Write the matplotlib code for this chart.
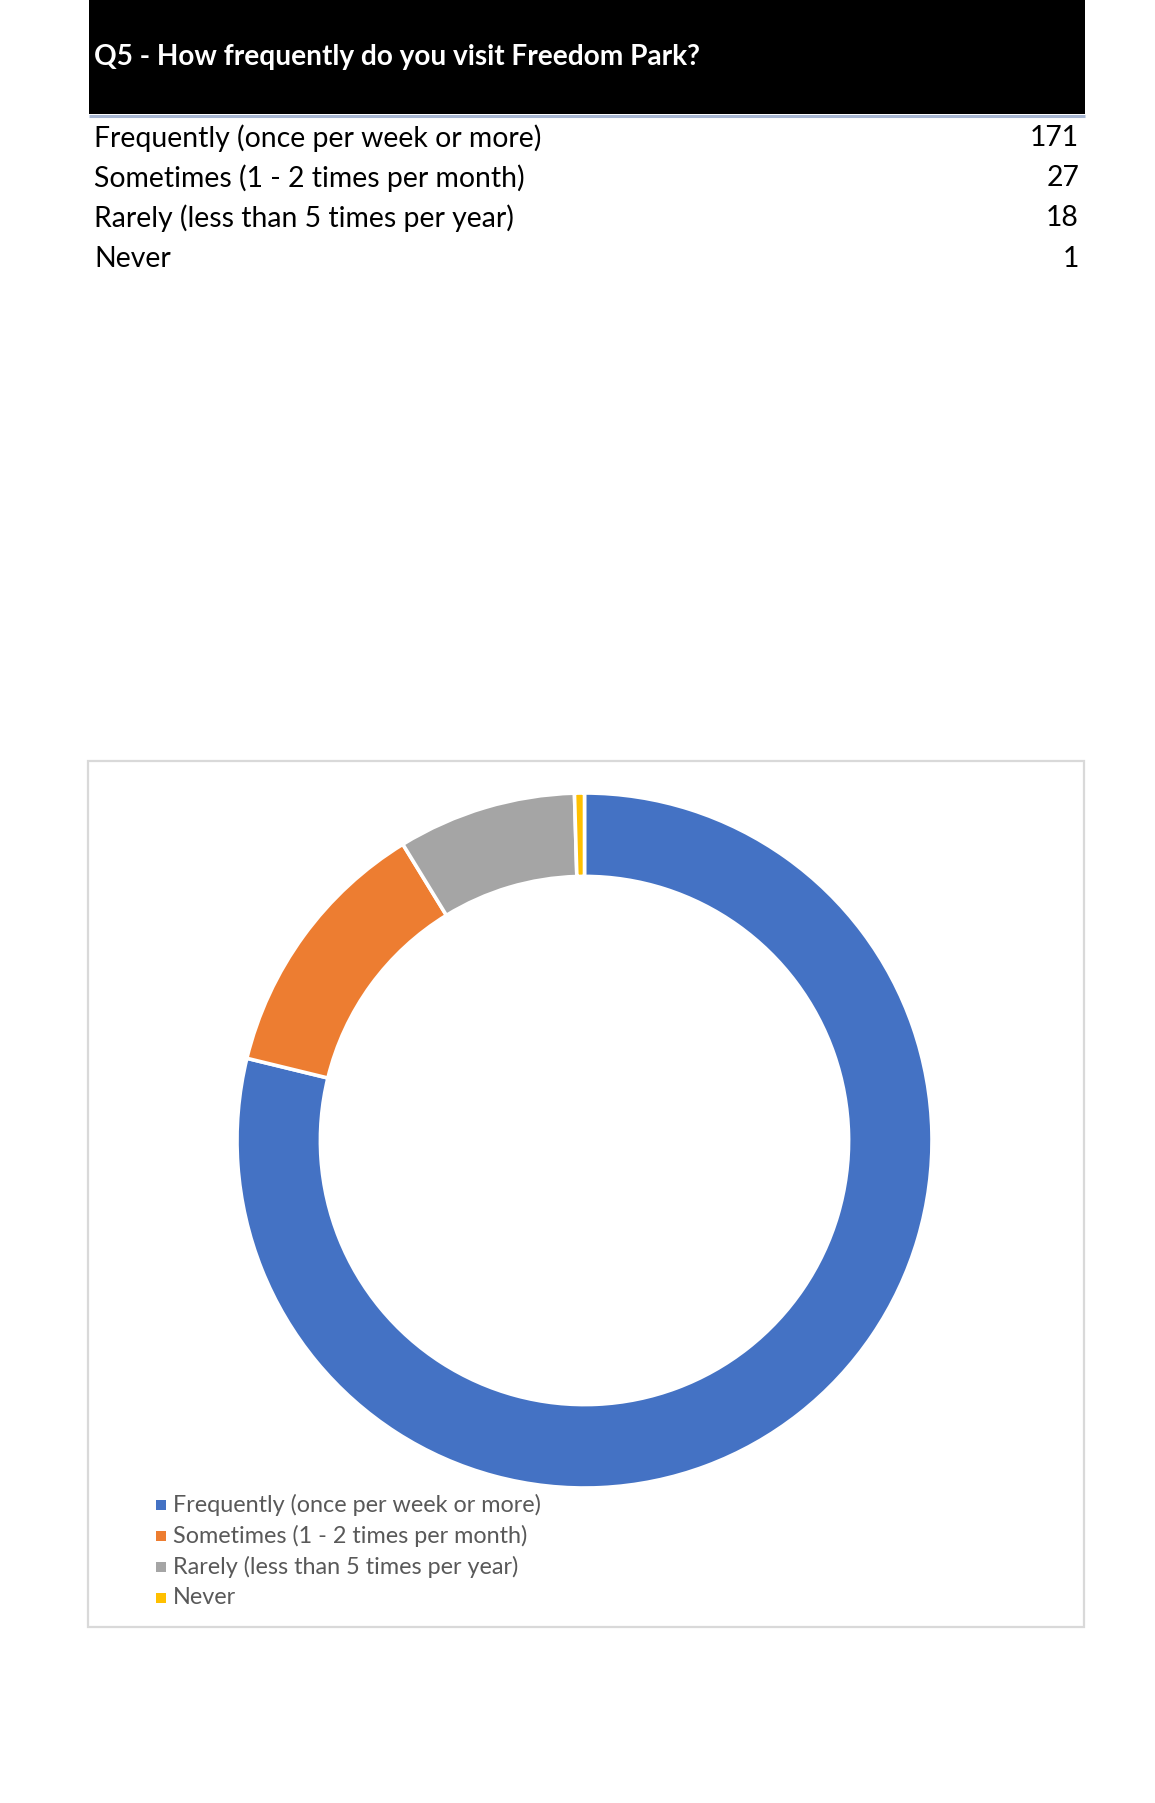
import matplotlib
matplotlib.use("Agg")
import matplotlib.pyplot as plt
from matplotlib.patches import Rectangle

# Survey responses
title = "Q5 - How frequently do you visit Freedom Park?"
categories = [
    "Frequently (once per week or more)",
    "Sometimes (1 - 2 times per month)",
    "Rarely (less than 5 times per year)",
    "Never",
]
counts = [171, 27, 18, 1]
colors = ["#4472C4", "#ED7D31", "#A5A5A5", "#FFC000"]

W, H = 1155, 1803
DPI = 100
FONT = "Lato"

fig = plt.figure(figsize=(W / DPI, H / DPI), dpi=DPI, facecolor="white")

# Page layer in pixel coordinates (origin top-left)
page = fig.add_axes([0, 0, 1, 1])
page.set_xlim(0, W)
page.set_ylim(H, 0)
page.axis("off")

# Header bar
page.add_patch(Rectangle((88.5, 0), 996.5, 114, facecolor="black", edgecolor="none"))
page.plot([88.5, 1085], [115.5, 115.5], color="#A7B6D2", lw=2.2, solid_capstyle="butt")
page.text(94, 57, title, color="white", fontsize=20.2, fontweight="bold",
          family=FONT, va="center", ha="left")

# Response table
row_y = [138, 178, 218, 259]
for y, cat, n in zip(row_y, categories, counts):
    page.text(94, y, cat, color="black", fontsize=20.4, family=FONT, va="center", ha="left")
    page.text(1079, y, str(n), color="black", fontsize=20.4, family=FONT, va="center", ha="right")

# Chart frame
page.add_patch(Rectangle((87.5, 760.5), 996, 866.5, facecolor="none",
                         edgecolor="#D9D9D9", lw=1.6))

# Doughnut chart
cx, cy, r = 584.5, 1140.5, 347.5
donut = fig.add_axes([(cx - r) / W, (H - (cy + r)) / H, 2 * r / W, 2 * r / H])
wedges, _ = donut.pie(counts, colors=colors, startangle=90, counterclock=False,
                      radius=1.0,
                      wedgeprops=dict(width=0.24, edgecolor="white", linewidth=2.6))
donut.set_xlim(-1, 1)
donut.set_ylim(-1, 1)
donut.set_aspect("equal")
donut.axis("off")

# Legend
leg_y = [1505, 1536, 1567, 1598]
for y, cat, col in zip(leg_y, categories, colors):
    page.scatter([161], [y], marker="s", s=42, color=col, linewidths=0)
    page.text(173, y, cat, color="#595959", fontsize=16.8, family=FONT, va="center", ha="left")

fig.savefig("out.png", dpi=DPI, facecolor="white")
